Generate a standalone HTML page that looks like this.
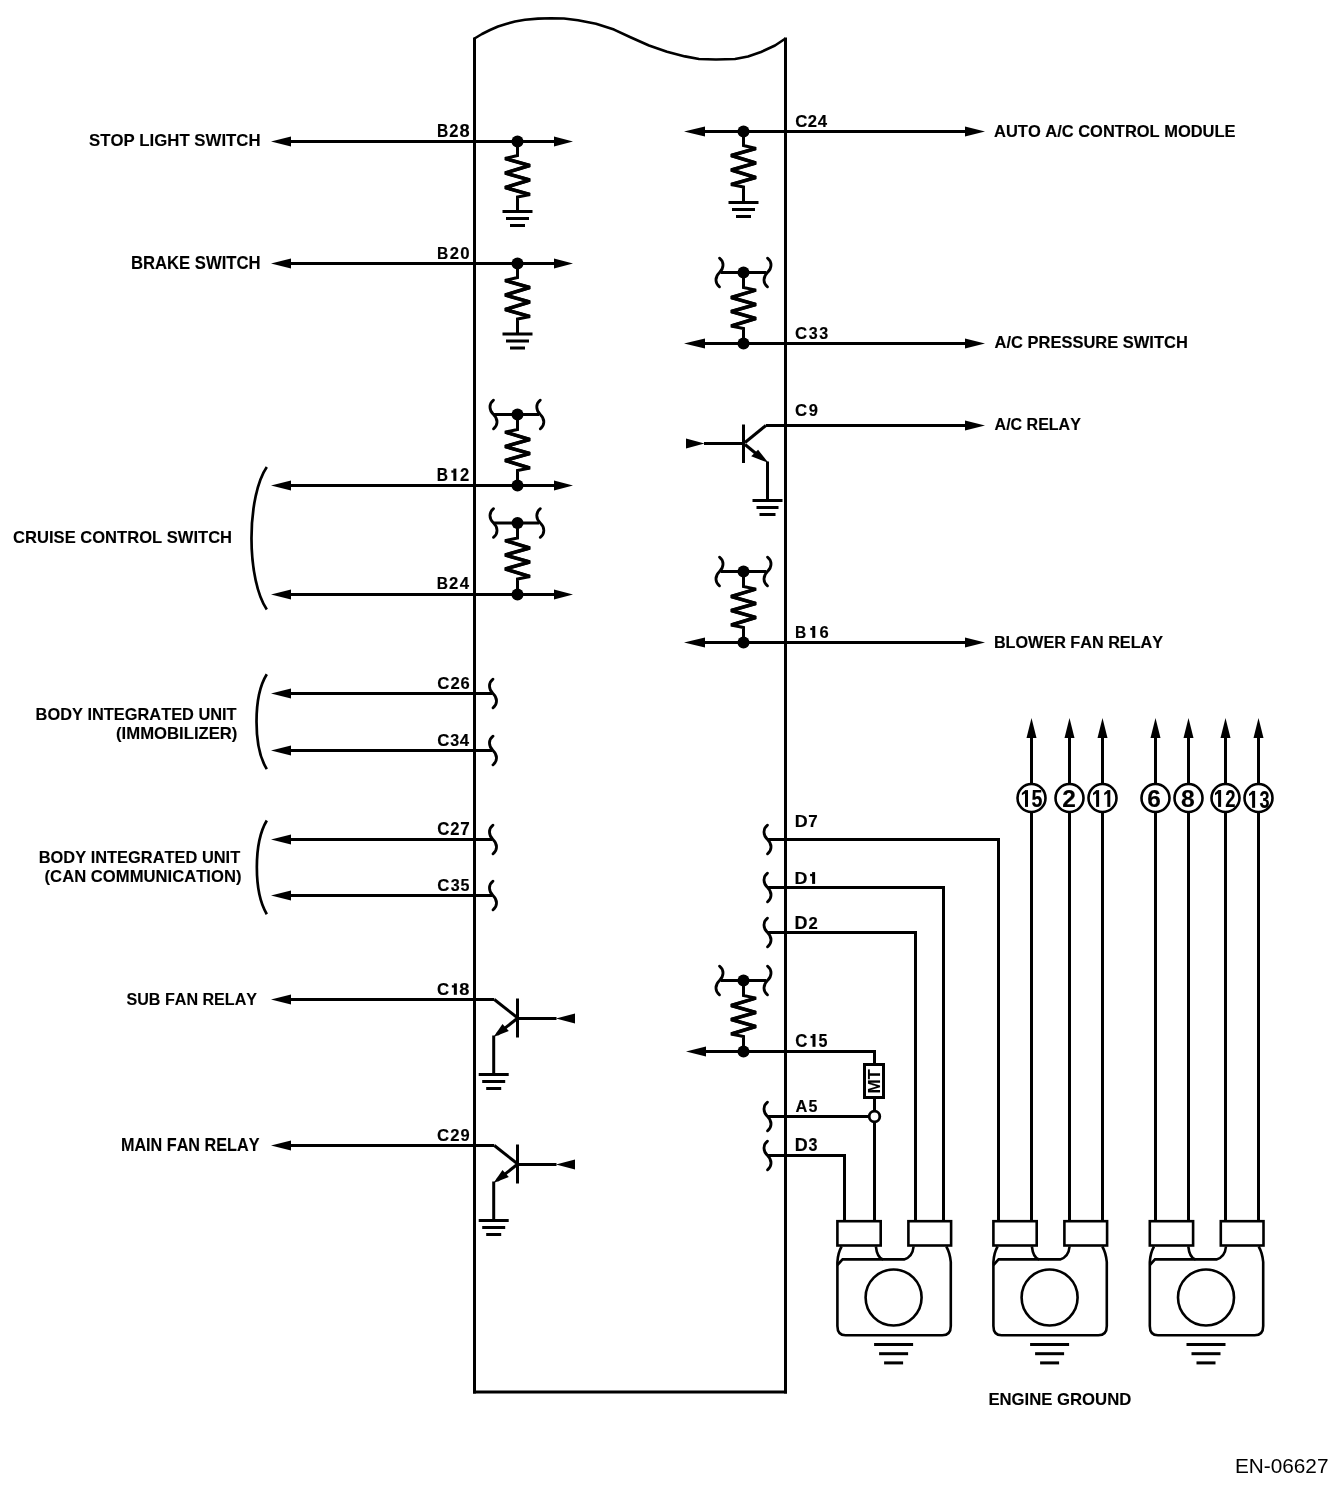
<!DOCTYPE html>
<html><head><meta charset="utf-8"><style>
html,body{margin:0;padding:0;background:#fff;}
svg{display:block;}
text{font-family:"Liberation Sans",sans-serif;font-kerning:none;fill:#000;stroke:#000;stroke-width:0.15px;}
svg{will-change:transform;}
text.thin{stroke:#000;stroke-width:0.1px;}
text.reg{stroke:none;}
</style></head><body>
<svg width="1344" height="1492" viewBox="0 0 1344 1492" stroke="#000" fill="none">
<rect x="0" y="0" width="1344" height="1492" fill="#fff" stroke="none"/>
<polyline points="474.5,38.5 482,34 490,30 498,26.5 506,24 515,21.5 525,19.8 538,18.6 551,18.3 564,18.5 578,20.3 596,23.7 614,29.6 631,37.5 649,45.5 667,51.7 685,56.4 699,59 716,59.5 735,59 748,56.5 761,52 775,45.5 785.5,38.5" stroke-width="2.6" stroke-linejoin="round" stroke-miterlimit="4"/>
<line x1="474.5" y1="37.5" x2="474.5" y2="1393.5" stroke-width="3"/>
<line x1="785.5" y1="37.5" x2="785.5" y2="1393.5" stroke-width="3"/>
<line x1="473" y1="1392" x2="787" y2="1392" stroke-width="3"/>
<polygon points="271,141.5 291,136.5 291,146.5" fill="#000" stroke="none"/>
<line x1="290" y1="141.5" x2="556" y2="141.5" stroke-width="3"/>
<polygon points="573,141.5 554,136.5 554,146.5" fill="#000" stroke="none"/>
<circle cx="517.5" cy="141.5" r="6" fill="#000" stroke="none"/>
<polyline points="517.5,141.5 517.5,155.5 504.9,158.5 530.1,165.5 504.9,173 530.1,180 504.9,187.5 530.1,194.5 517.5,197 517.5,211.5" stroke-width="3" stroke-linejoin="miter" stroke-miterlimit="2"/>
<polyline points="505.3,158.5 529.7,165.5 505.3,173 529.7,180 505.3,187.5 529.7,194.5" stroke-width="3.6" stroke-linejoin="miter" stroke-miterlimit="2"/>
<rect x="502.5" y="210" width="30" height="3" fill="#000" stroke="none"/>
<rect x="506" y="217" width="23" height="3" fill="#000" stroke="none"/>
<rect x="510" y="224" width="15" height="3" fill="#000" stroke="none"/>
<polygon points="271,263.5 291,258.5 291,268.5" fill="#000" stroke="none"/>
<line x1="290" y1="263.5" x2="556" y2="263.5" stroke-width="3"/>
<polygon points="573,263.5 554,258.5 554,268.5" fill="#000" stroke="none"/>
<circle cx="517.5" cy="263.5" r="6" fill="#000" stroke="none"/>
<polyline points="517.5,263.5 517.5,277.5 504.9,280.5 530.1,287.5 504.9,295 530.1,302 504.9,309.5 530.1,316.5 517.5,319 517.5,334" stroke-width="3" stroke-linejoin="miter" stroke-miterlimit="2"/>
<polyline points="505.3,280.5 529.7,287.5 505.3,295 529.7,302 505.3,309.5 529.7,316.5" stroke-width="3.6" stroke-linejoin="miter" stroke-miterlimit="2"/>
<rect x="502.5" y="332.5" width="30" height="3" fill="#000" stroke="none"/>
<rect x="506" y="339.5" width="23" height="3" fill="#000" stroke="none"/>
<rect x="510" y="346.5" width="15" height="3" fill="#000" stroke="none"/>
<polygon points="271,485.5 291,480.5 291,490.5" fill="#000" stroke="none"/>
<line x1="290" y1="485.5" x2="556" y2="485.5" stroke-width="3"/>
<polygon points="573,485.5 554,480.5 554,490.5" fill="#000" stroke="none"/>
<line x1="494" y1="414.5" x2="539" y2="414.5" stroke-width="3"/>
<circle cx="517.5" cy="414.5" r="6" fill="#000" stroke="none"/>
<path d="M493.5,400.2 C488.8,403.77 488.8,410.21 493.5,414.5 C498.2,418.79 498.2,425.23 493.5,428.8" stroke-width="2.8" stroke-linecap="round"/>
<path d="M540.3,400.2 C535.6,403.77 535.6,410.21 540.3,414.5 C545,418.79 545,425.23 540.3,428.8" stroke-width="2.8" stroke-linecap="round"/>
<polyline points="517.5,414.5 517.5,429.5 504.9,432.1 530.1,439.5 504.9,446.5 530.1,453.5 504.9,460.5 530.1,468 517.5,470.5 517.5,485.5" stroke-width="3" stroke-linejoin="miter" stroke-miterlimit="2"/>
<polyline points="505.3,432.1 529.7,439.5 505.3,446.5 529.7,453.5 505.3,460.5 529.7,468" stroke-width="3.6" stroke-linejoin="miter" stroke-miterlimit="2"/>
<circle cx="517.5" cy="485.5" r="6" fill="#000" stroke="none"/>
<polygon points="271,594.5 291,589.5 291,599.5" fill="#000" stroke="none"/>
<line x1="290" y1="594.5" x2="556" y2="594.5" stroke-width="3"/>
<polygon points="573,594.5 554,589.5 554,599.5" fill="#000" stroke="none"/>
<line x1="494" y1="523" x2="539" y2="523" stroke-width="3"/>
<circle cx="517.5" cy="523" r="6" fill="#000" stroke="none"/>
<path d="M493.5,508.7 C488.8,512.27 488.8,518.71 493.5,523 C498.2,527.29 498.2,533.73 493.5,537.3" stroke-width="2.8" stroke-linecap="round"/>
<path d="M540.3,508.7 C535.6,512.27 535.6,518.71 540.3,523 C545,527.29 545,533.73 540.3,537.3" stroke-width="2.8" stroke-linecap="round"/>
<polyline points="517.5,523 517.5,538 504.9,540.6 530.1,548 504.9,555 530.1,562 504.9,569 530.1,576.5 517.5,579 517.5,594.5" stroke-width="3" stroke-linejoin="miter" stroke-miterlimit="2"/>
<polyline points="505.3,540.6 529.7,548 505.3,555 529.7,562 505.3,569 529.7,576.5" stroke-width="3.6" stroke-linejoin="miter" stroke-miterlimit="2"/>
<circle cx="517.5" cy="594.5" r="6" fill="#000" stroke="none"/>
<polygon points="271,693.5 291,688.5 291,698.5" fill="#000" stroke="none"/>
<line x1="290" y1="693.5" x2="492.5" y2="693.5" stroke-width="3"/>
<path d="M493,679.2 C488.3,682.77 488.3,689.21 493,693.5 C497.7,697.79 497.7,704.23 493,707.8" stroke-width="2.8" stroke-linecap="round"/>
<polygon points="271,750.5 291,745.5 291,755.5" fill="#000" stroke="none"/>
<line x1="290" y1="750.5" x2="492.5" y2="750.5" stroke-width="3"/>
<path d="M493,736.2 C488.3,739.77 488.3,746.21 493,750.5 C497.7,754.79 497.7,761.23 493,764.8" stroke-width="2.8" stroke-linecap="round"/>
<polygon points="271,839.5 291,834.5 291,844.5" fill="#000" stroke="none"/>
<line x1="290" y1="839.5" x2="492.5" y2="839.5" stroke-width="3"/>
<path d="M493,825.2 C488.3,828.77 488.3,835.21 493,839.5 C497.7,843.79 497.7,850.23 493,853.8" stroke-width="2.8" stroke-linecap="round"/>
<polygon points="271,895.5 291,890.5 291,900.5" fill="#000" stroke="none"/>
<line x1="290" y1="895.5" x2="492.5" y2="895.5" stroke-width="3"/>
<path d="M493,881.2 C488.3,884.77 488.3,891.21 493,895.5 C497.7,899.79 497.7,906.23 493,909.8" stroke-width="2.8" stroke-linecap="round"/>
<polygon points="271,999.5 291,994.5 291,1004.5" fill="#000" stroke="none"/>
<line x1="290" y1="999.5" x2="494.3" y2="999.5" stroke-width="3"/>
<polyline points="494.3,999.5 516.5,1017" stroke-width="3" stroke-linejoin="miter" stroke-miterlimit="4"/>
<line x1="517.5" y1="998.5" x2="517.5" y2="1037.5" stroke-width="3"/>
<line x1="517.5" y1="1018.5" x2="556.5" y2="1018.5" stroke-width="3"/>
<polygon points="556,1018.5 575,1013.5 575,1023.5" fill="#000" stroke="none"/>
<line x1="516.5" y1="1019" x2="497" y2="1034.5" stroke-width="3"/>
<polygon points="493.5,1037 502.5,1024 508.8,1031" fill="#000" stroke="none"/>
<line x1="493.7" y1="1035.5" x2="493.7" y2="1074.5" stroke-width="3"/>
<rect x="478.7" y="1073" width="30" height="3" fill="#000" stroke="none"/>
<rect x="482.2" y="1080" width="23" height="3" fill="#000" stroke="none"/>
<rect x="486.2" y="1087" width="15" height="3" fill="#000" stroke="none"/>
<polygon points="271,1145.5 291,1140.5 291,1150.5" fill="#000" stroke="none"/>
<line x1="290" y1="1145.5" x2="494.3" y2="1145.5" stroke-width="3"/>
<polyline points="494.3,1145.5 516.5,1163" stroke-width="3" stroke-linejoin="miter" stroke-miterlimit="4"/>
<line x1="517.5" y1="1144.5" x2="517.5" y2="1183.5" stroke-width="3"/>
<line x1="517.5" y1="1164.5" x2="556.5" y2="1164.5" stroke-width="3"/>
<polygon points="556,1164.5 575,1159.5 575,1169.5" fill="#000" stroke="none"/>
<line x1="516.5" y1="1165" x2="497" y2="1180.5" stroke-width="3"/>
<polygon points="493.5,1183 502.5,1170 508.8,1177" fill="#000" stroke="none"/>
<line x1="493.7" y1="1181.5" x2="493.7" y2="1220.5" stroke-width="3"/>
<rect x="478.7" y="1219" width="30" height="3" fill="#000" stroke="none"/>
<rect x="482.2" y="1226" width="23" height="3" fill="#000" stroke="none"/>
<rect x="486.2" y="1233" width="15" height="3" fill="#000" stroke="none"/>
<polygon points="684,131.5 705,126.5 705,136.5" fill="#000" stroke="none"/>
<line x1="703" y1="131.5" x2="967" y2="131.5" stroke-width="3"/>
<polygon points="985,131.5 965,126.5 965,136.5" fill="#000" stroke="none"/>
<circle cx="743.5" cy="131.5" r="6" fill="#000" stroke="none"/>
<polyline points="743.5,131.5 743.5,145.5 756.1,148.5 730.9,155.5 756.1,163 730.9,170 756.1,177.5 730.9,184.5 743.5,187 743.5,202.5" stroke-width="3" stroke-linejoin="miter" stroke-miterlimit="2"/>
<polyline points="755.7,148.5 731.3,155.5 755.7,163 731.3,170 755.7,177.5 731.3,184.5" stroke-width="3.6" stroke-linejoin="miter" stroke-miterlimit="2"/>
<rect x="728.5" y="201" width="30" height="3" fill="#000" stroke="none"/>
<rect x="732" y="208" width="23" height="3" fill="#000" stroke="none"/>
<rect x="736" y="215" width="15" height="3" fill="#000" stroke="none"/>
<polygon points="684,343.5 705,338.5 705,348.5" fill="#000" stroke="none"/>
<line x1="703" y1="343.5" x2="967" y2="343.5" stroke-width="3"/>
<polygon points="985,343.5 965,338.5 965,348.5" fill="#000" stroke="none"/>
<line x1="720.5" y1="272.5" x2="766.5" y2="272.5" stroke-width="3"/>
<circle cx="743.5" cy="272.5" r="6" fill="#000" stroke="none"/>
<path d="M719.5,258.2 C724.2,261.77 724.2,268.21 719.5,272.5 C714.8,276.79 714.8,283.23 719.5,286.8" stroke-width="2.8" stroke-linecap="round"/>
<path d="M767.5,258.2 C772.2,261.77 772.2,268.21 767.5,272.5 C762.8,276.79 762.8,283.23 767.5,286.8" stroke-width="2.8" stroke-linecap="round"/>
<polyline points="743.5,272.5 743.5,287.5 756.1,290.1 730.9,297.5 756.1,304.5 730.9,311.5 756.1,318.5 730.9,326 743.5,328.5 743.5,343.5" stroke-width="3" stroke-linejoin="miter" stroke-miterlimit="2"/>
<polyline points="755.7,290.1 731.3,297.5 755.7,304.5 731.3,311.5 755.7,318.5 731.3,326" stroke-width="3.6" stroke-linejoin="miter" stroke-miterlimit="2"/>
<circle cx="743.5" cy="343.5" r="6" fill="#000" stroke="none"/>
<polygon points="684,642.5 705,637.5 705,647.5" fill="#000" stroke="none"/>
<line x1="703" y1="642.5" x2="967" y2="642.5" stroke-width="3"/>
<polygon points="985,642.5 965,637.5 965,647.5" fill="#000" stroke="none"/>
<line x1="720.5" y1="571.5" x2="766.5" y2="571.5" stroke-width="3"/>
<circle cx="743.5" cy="571.5" r="6" fill="#000" stroke="none"/>
<path d="M719.5,557.2 C724.2,560.77 724.2,567.21 719.5,571.5 C714.8,575.79 714.8,582.23 719.5,585.8" stroke-width="2.8" stroke-linecap="round"/>
<path d="M767.5,557.2 C772.2,560.77 772.2,567.21 767.5,571.5 C762.8,575.79 762.8,582.23 767.5,585.8" stroke-width="2.8" stroke-linecap="round"/>
<polyline points="743.5,571.5 743.5,586.5 756.1,589.1 730.9,596.5 756.1,603.5 730.9,610.5 756.1,617.5 730.9,625 743.5,627.5 743.5,642.5" stroke-width="3" stroke-linejoin="miter" stroke-miterlimit="2"/>
<polyline points="755.7,589.1 731.3,596.5 755.7,603.5 731.3,610.5 755.7,617.5 731.3,625" stroke-width="3.6" stroke-linejoin="miter" stroke-miterlimit="2"/>
<circle cx="743.5" cy="642.5" r="6" fill="#000" stroke="none"/>
<line x1="765.9" y1="425.5" x2="967" y2="425.5" stroke-width="3"/>
<polygon points="985,425.5 965,420.5 965,430.5" fill="#000" stroke="none"/>
<polyline points="765.9,425.5 745,442.5" stroke-width="3" stroke-linejoin="miter" stroke-miterlimit="4"/>
<line x1="743.5" y1="424.5" x2="743.5" y2="463" stroke-width="3"/>
<line x1="704" y1="443.5" x2="743.5" y2="443.5" stroke-width="3"/>
<polygon points="704.5,443.5 686,438.5 686,448.5" fill="#000" stroke="none"/>
<line x1="745" y1="444.5" x2="762" y2="458.5" stroke-width="3"/>
<polygon points="768.4,462.8 751.2,456.3 758.1,449.8" fill="#000" stroke="none"/>
<line x1="767.5" y1="461.5" x2="767.5" y2="500.5" stroke-width="3"/>
<rect x="752.5" y="499" width="30" height="3" fill="#000" stroke="none"/>
<rect x="756.5" y="506" width="22" height="3" fill="#000" stroke="none"/>
<rect x="759.5" y="513" width="16" height="3" fill="#000" stroke="none"/>
<polygon points="686,1051.5 706,1046.5 706,1056.5" fill="#000" stroke="none"/>
<line x1="720.5" y1="980.5" x2="766.5" y2="980.5" stroke-width="3"/>
<circle cx="743.5" cy="980.5" r="6" fill="#000" stroke="none"/>
<path d="M719.5,966.2 C724.2,969.77 724.2,976.21 719.5,980.5 C714.8,984.79 714.8,991.23 719.5,994.8" stroke-width="2.8" stroke-linecap="round"/>
<path d="M767.5,966.2 C772.2,969.77 772.2,976.21 767.5,980.5 C762.8,984.79 762.8,991.23 767.5,994.8" stroke-width="2.8" stroke-linecap="round"/>
<polyline points="743.5,980.5 743.5,995.5 756.1,998.1 730.9,1005.5 756.1,1012.5 730.9,1019.5 756.1,1026.5 730.9,1034 743.5,1036.5 743.5,1051.5" stroke-width="3" stroke-linejoin="miter" stroke-miterlimit="2"/>
<polyline points="755.7,998.1 731.3,1005.5 755.7,1012.5 731.3,1019.5 755.7,1026.5 731.3,1034" stroke-width="3.6" stroke-linejoin="miter" stroke-miterlimit="2"/>
<circle cx="743.5" cy="1051.5" r="6" fill="#000" stroke="none"/>
<polyline points="704,1051.5 874.5,1051.5 874.5,1064.5" stroke-width="3" stroke-linejoin="miter" stroke-miterlimit="4"/>
<rect x="864.5" y="1064.5" width="19" height="33" fill="none" stroke-width="3"/>
<line x1="874.5" y1="1097" x2="874.5" y2="1110.5" stroke-width="3"/>
<circle cx="874.5" cy="1116.5" r="5.3" fill="none" stroke-width="2.8"/>
<line x1="874.5" y1="1122" x2="874.5" y2="1221" stroke-width="3"/>
<path d="M767.5,825.2 C762.8,828.77 762.8,835.21 767.5,839.5 C772.2,843.79 772.2,850.23 767.5,853.8" stroke-width="2.8" stroke-linecap="round"/>
<polyline points="767.5,839.5 998.5,839.5 998.5,1221" stroke-width="3" stroke-linejoin="miter" stroke-miterlimit="4"/>
<path d="M767.5,873.2 C762.8,876.77 762.8,883.21 767.5,887.5 C772.2,891.79 772.2,898.23 767.5,901.8" stroke-width="2.8" stroke-linecap="round"/>
<polyline points="767.5,887.5 943.5,887.5 943.5,1221" stroke-width="3" stroke-linejoin="miter" stroke-miterlimit="4"/>
<path d="M767.5,918.2 C762.8,921.77 762.8,928.21 767.5,932.5 C772.2,936.79 772.2,943.23 767.5,946.8" stroke-width="2.8" stroke-linecap="round"/>
<polyline points="767.5,932.5 915.5,932.5 915.5,1221" stroke-width="3" stroke-linejoin="miter" stroke-miterlimit="4"/>
<path d="M767.5,1102.2 C762.8,1105.78 762.8,1112.21 767.5,1116.5 C772.2,1120.79 772.2,1127.22 767.5,1130.8" stroke-width="2.8" stroke-linecap="round"/>
<line x1="767.5" y1="1116.5" x2="869" y2="1116.5" stroke-width="3"/>
<path d="M767.5,1141.2 C762.8,1144.78 762.8,1151.21 767.5,1155.5 C772.2,1159.79 772.2,1166.22 767.5,1169.8" stroke-width="2.8" stroke-linecap="round"/>
<polyline points="767.5,1155.5 844.5,1155.5 844.5,1221" stroke-width="3" stroke-linejoin="miter" stroke-miterlimit="4"/>
<polygon points="1031.5,718 1026.5,738 1036.5,738" fill="#000" stroke="none"/>
<line x1="1031.5" y1="736" x2="1031.5" y2="783.5" stroke-width="3"/>
<line x1="1031.5" y1="812.5" x2="1031.5" y2="1221" stroke-width="3"/>
<circle cx="1031.5" cy="798" r="14" fill="none" stroke-width="2.6"/>
<polygon points="1069.5,718 1064.5,738 1074.5,738" fill="#000" stroke="none"/>
<line x1="1069.5" y1="736" x2="1069.5" y2="783.5" stroke-width="3"/>
<line x1="1069.5" y1="812.5" x2="1069.5" y2="1221" stroke-width="3"/>
<circle cx="1069.5" cy="798" r="14" fill="none" stroke-width="2.6"/>
<polygon points="1102.5,718 1097.5,738 1107.5,738" fill="#000" stroke="none"/>
<line x1="1102.5" y1="736" x2="1102.5" y2="783.5" stroke-width="3"/>
<line x1="1102.5" y1="812.5" x2="1102.5" y2="1221" stroke-width="3"/>
<circle cx="1102.5" cy="798" r="14" fill="none" stroke-width="2.6"/>
<polygon points="1155.5,718 1150.5,738 1160.5,738" fill="#000" stroke="none"/>
<line x1="1155.5" y1="736" x2="1155.5" y2="783.5" stroke-width="3"/>
<line x1="1155.5" y1="812.5" x2="1155.5" y2="1221" stroke-width="3"/>
<circle cx="1155.5" cy="798" r="14" fill="none" stroke-width="2.6"/>
<polygon points="1188.5,718 1183.5,738 1193.5,738" fill="#000" stroke="none"/>
<line x1="1188.5" y1="736" x2="1188.5" y2="783.5" stroke-width="3"/>
<line x1="1188.5" y1="812.5" x2="1188.5" y2="1221" stroke-width="3"/>
<circle cx="1188.5" cy="798" r="14" fill="none" stroke-width="2.6"/>
<polygon points="1225.5,718 1220.5,738 1230.5,738" fill="#000" stroke="none"/>
<line x1="1225.5" y1="736" x2="1225.5" y2="783.5" stroke-width="3"/>
<line x1="1225.5" y1="812.5" x2="1225.5" y2="1221" stroke-width="3"/>
<circle cx="1225.5" cy="798" r="14" fill="none" stroke-width="2.6"/>
<polygon points="1258.5,718 1253.5,738 1263.5,738" fill="#000" stroke="none"/>
<line x1="1258.5" y1="736" x2="1258.5" y2="783.5" stroke-width="3"/>
<line x1="1258.5" y1="812.5" x2="1258.5" y2="1221" stroke-width="3"/>
<circle cx="1258.5" cy="798" r="14" fill="none" stroke-width="2.6"/>
<rect x="837.4" y="1221.2" width="43.3" height="24.3" fill="none" stroke-width="2.6"/>
<rect x="908.4" y="1221.2" width="42.7" height="24.3" fill="none" stroke-width="2.6"/>
<path d="M841.6,1246.5 Q837.9,1253 837.4,1262 L837.4,1326 Q837.4,1335.3 845.6,1335.3 L942.3,1335.3 Q950.8,1335.3 950.8,1326 L950.8,1262 Q950,1253 946.3,1246.5" stroke-width="2.6" />
<path d="M837.4,1265 L842.6,1259.4 L904.1,1259.4 Q912.6,1257 913.6,1246.5" stroke-width="2.6" />
<path d="M875.9,1246.5 Q877.1,1258 883.1,1259.4" stroke-width="2.6" />
<circle cx="893.6" cy="1297.5" r="28" fill="none" stroke-width="2.6"/>
<rect x="874.1" y="1343" width="39" height="3" fill="#000" stroke="none"/>
<rect x="879.1" y="1352.2" width="29" height="3" fill="#000" stroke="none"/>
<rect x="884.1" y="1361.4" width="19" height="3" fill="#000" stroke="none"/>
<rect x="993.4" y="1221.2" width="43.3" height="24.3" fill="none" stroke-width="2.6"/>
<rect x="1064.4" y="1221.2" width="42.7" height="24.3" fill="none" stroke-width="2.6"/>
<path d="M997.6,1246.5 Q993.9,1253 993.4,1262 L993.4,1326 Q993.4,1335.3 1001.6,1335.3 L1098.3,1335.3 Q1106.8,1335.3 1106.8,1326 L1106.8,1262 Q1106,1253 1102.3,1246.5" stroke-width="2.6" />
<path d="M993.4,1265 L998.6,1259.4 L1060.1,1259.4 Q1068.6,1257 1069.6,1246.5" stroke-width="2.6" />
<path d="M1031.9,1246.5 Q1033.1,1258 1039.1,1259.4" stroke-width="2.6" />
<circle cx="1049.6" cy="1297.5" r="28" fill="none" stroke-width="2.6"/>
<rect x="1030.1" y="1343" width="39" height="3" fill="#000" stroke="none"/>
<rect x="1035.1" y="1352.2" width="29" height="3" fill="#000" stroke="none"/>
<rect x="1040.1" y="1361.4" width="19" height="3" fill="#000" stroke="none"/>
<rect x="1149.8" y="1221.2" width="43.3" height="24.3" fill="none" stroke-width="2.6"/>
<rect x="1220.8" y="1221.2" width="42.7" height="24.3" fill="none" stroke-width="2.6"/>
<path d="M1154,1246.5 Q1150.3,1253 1149.8,1262 L1149.8,1326 Q1149.8,1335.3 1158,1335.3 L1254.7,1335.3 Q1263.2,1335.3 1263.2,1326 L1263.2,1262 Q1262.4,1253 1258.7,1246.5" stroke-width="2.6" />
<path d="M1149.8,1265 L1155,1259.4 L1216.5,1259.4 Q1225,1257 1226,1246.5" stroke-width="2.6" />
<path d="M1188.3,1246.5 Q1189.5,1258 1195.5,1259.4" stroke-width="2.6" />
<circle cx="1206" cy="1297.5" r="28" fill="none" stroke-width="2.6"/>
<rect x="1186.5" y="1343" width="39" height="3" fill="#000" stroke="none"/>
<rect x="1191.5" y="1352.2" width="29" height="3" fill="#000" stroke="none"/>
<rect x="1196.5" y="1361.4" width="19" height="3" fill="#000" stroke="none"/>
<path d="M266.8,467 A28.1 80 0 0 0 266.8,609.5" stroke-width="2.7" />
<path d="M266.8,674.3 A22 56 0 0 0 266.8,769.1" stroke-width="2.7" />
<path d="M266.8,820.5 A22 56 0 0 0 266.8,914.2" stroke-width="2.7" />
<text transform="translate(89.02,145.74) scale(1.0074,1)" font-size="16.666" font-weight="bold" class="thin">STOP LIGHT SWITCH</text>
<text transform="translate(130.88,268.83) scale(0.9525,1)" font-size="17.514" font-weight="bold" class="thin">BRAKE SWITCH</text>
<text transform="translate(13.12,543.14) scale(0.9938,1)" font-size="16.666" font-weight="bold" class="thin">CRUISE CONTROL SWITCH</text>
<text transform="translate(35.6,719.84) scale(1.0093,1)" font-size="16.243" font-weight="bold" class="thin">BODY INTEGRATED UNIT</text>
<text transform="translate(116.07,738.65) scale(1.0657,1)" font-size="15.663" font-weight="bold" class="thin">(IMMOBILIZER)</text>
<text transform="translate(38.7,862.94) scale(1.0202,1)" font-size="16.102" font-weight="bold" class="thin">BODY INTEGRATED UNIT</text>
<text transform="translate(44.57,881.75) scale(1.0634,1)" font-size="15.663" font-weight="bold" class="thin">(CAN COMMUNICATION)</text>
<text transform="translate(126.44,1004.73) scale(0.9353,1)" font-size="17.231" font-weight="bold" class="thin">SUB FAN RELAY</text>
<text transform="translate(120.92,1151) scale(0.8773,1)" font-size="18.460" font-weight="bold" class="thin">MAIN FAN RELAY</text>
<text transform="translate(436.96,136.8) scale(0.8506,1)" font-size="18.314" font-weight="bold" >B</text>
<text transform="translate(449.17,136.8) scale(0.9208,1)" font-size="18.045" font-weight="bold" >2</text>
<text transform="translate(459.42,136.63) scale(1.0244,1)" font-size="17.796" font-weight="bold" >8</text>
<text transform="translate(436.96,258.8) scale(0.9569,1)" font-size="16.279" font-weight="bold" >B</text>
<text transform="translate(449.67,258.8) scale(1.0359,1)" font-size="16.040" font-weight="bold" >2</text>
<text transform="translate(460.33,258.65) scale(1.0634,1)" font-size="15.819" font-weight="bold" >0</text>
<text transform="translate(436.66,480.9) scale(0.8713,1)" font-size="17.878" font-weight="bold" >B</text>
<rect x="453.35" y="468.6" width="3" height="12.3" fill="#000" stroke="none"/>
<rect x="451.35" y="470.4" width="2.4" height="2.3" fill="#000" stroke="none"/>
<text transform="translate(459.92,480.9) scale(0.9433,1)" font-size="17.616" font-weight="bold" >2</text>
<text transform="translate(436.66,588.8) scale(0.9239,1)" font-size="16.861" font-weight="bold" >B</text>
<text transform="translate(449.02,588.8) scale(1.0002,1)" font-size="16.613" font-weight="bold" >2</text>
<text transform="translate(459.75,588.8) scale(0.9965,1)" font-size="16.861" font-weight="bold" >4</text>
<text transform="translate(437.21,688.64) scale(1.0358,1)" font-size="16.243" font-weight="bold" >C</text>
<text transform="translate(450.42,688.8) scale(1.0089,1)" font-size="16.470" font-weight="bold" >2</text>
<text transform="translate(460.49,688.64) scale(1.0189,1)" font-size="16.243" font-weight="bold" >6</text>
<text transform="translate(437.21,745.54) scale(1.0358,1)" font-size="16.243" font-weight="bold" >C</text>
<text transform="translate(450.13,745.52) scale(0.9929,1)" font-size="16.209" font-weight="bold" >3</text>
<text transform="translate(459.85,745.7) scale(1.0052,1)" font-size="16.715" font-weight="bold" >4</text>
<text transform="translate(437.21,834.73) scale(0.9454,1)" font-size="17.796" font-weight="bold" >C</text>
<text transform="translate(450.37,834.9) scale(0.9208,1)" font-size="18.045" font-weight="bold" >2</text>
<text transform="translate(460.27,834.9) scale(0.9309,1)" font-size="18.314" font-weight="bold" >7</text>
<text transform="translate(437.21,890.54) scale(1.0358,1)" font-size="16.243" font-weight="bold" >C</text>
<text transform="translate(450.63,890.52) scale(0.9929,1)" font-size="16.209" font-weight="bold" >3</text>
<text transform="translate(460.61,890.54) scale(0.9756,1)" font-size="16.481" font-weight="bold" >5</text>
<text transform="translate(437.11,994.64) scale(1.0449,1)" font-size="16.102" font-weight="bold" >C</text>
<rect x="453.85" y="983.4" width="3" height="11.4" fill="#000" stroke="none"/>
<rect x="451.85" y="985.2" width="2.4" height="2.3" fill="#000" stroke="none"/>
<text transform="translate(459.32,994.64) scale(1.1323,1)" font-size="16.102" font-weight="bold" >8</text>
<text transform="translate(437.11,1140.84) scale(1.0358,1)" font-size="16.243" font-weight="bold" >C</text>
<text transform="translate(450.32,1141) scale(1.0089,1)" font-size="16.470" font-weight="bold" >2</text>
<text transform="translate(460.43,1140.84) scale(1.0168,1)" font-size="16.243" font-weight="bold" >9</text>
<text transform="translate(795.31,126.64) scale(1.0010,1)" font-size="16.808" font-weight="bold" >C</text>
<text transform="translate(807.87,126.8) scale(0.9750,1)" font-size="17.043" font-weight="bold" >2</text>
<text transform="translate(817.65,126.8) scale(0.9714,1)" font-size="17.297" font-weight="bold" >4</text>
<text transform="translate(794.91,338.59) scale(1.0313,1)" font-size="16.313" font-weight="bold" >C</text>
<text transform="translate(808.68,338.57) scale(0.9886,1)" font-size="16.280" font-weight="bold" >3</text>
<text transform="translate(819.13,338.57) scale(0.9886,1)" font-size="16.280" font-weight="bold" >3</text>
<text transform="translate(795.11,416.04) scale(1.0181,1)" font-size="16.525" font-weight="bold" >C</text>
<text transform="translate(808.73,416.04) scale(0.9994,1)" font-size="16.525" font-weight="bold" >9</text>
<text transform="translate(794.96,637.9) scale(0.9006,1)" font-size="17.297" font-weight="bold" >B</text>
<rect x="812.25" y="626" width="3" height="11.9" fill="#000" stroke="none"/>
<rect x="810.25" y="627.8" width="2.4" height="2.3" fill="#000" stroke="none"/>
<text transform="translate(819.39,637.74) scale(0.9846,1)" font-size="16.808" font-weight="bold" >6</text>
<text transform="translate(794.7,826.9) scale(1.0458,1)" font-size="17.151" font-weight="bold" >D</text>
<text transform="translate(808.27,826.9) scale(0.9940,1)" font-size="17.151" font-weight="bold" >7</text>
<text transform="translate(794.6,883.9) scale(1.0458,1)" font-size="17.151" font-weight="bold" >D</text>
<rect x="812.1" y="872.1" width="3" height="11.8" fill="#000" stroke="none"/>
<rect x="810.1" y="873.9" width="2.4" height="2.3" fill="#000" stroke="none"/>
<text transform="translate(794.6,928.9) scale(1.0283,1)" font-size="17.442" font-weight="bold" >D</text>
<text transform="translate(808.42,928.9) scale(0.9669,1)" font-size="17.186" font-weight="bold" >2</text>
<text transform="translate(795.31,1046.62) scale(0.9306,1)" font-size="18.079" font-weight="bold" >C</text>
<rect x="812.5" y="1034" width="3" height="12.8" fill="#000" stroke="none"/>
<rect x="810.5" y="1035.8" width="2.4" height="2.3" fill="#000" stroke="none"/>
<text transform="translate(818.51,1046.62) scale(0.8765,1)" font-size="18.345" font-weight="bold" >5</text>
<text transform="translate(795.59,1111.9) scale(0.9479,1)" font-size="17.297" font-weight="bold" >A</text>
<text transform="translate(808.41,1111.73) scale(0.9428,1)" font-size="17.055" font-weight="bold" >5</text>
<text transform="translate(794.8,1150.9) scale(0.9566,1)" font-size="18.750" font-weight="bold" >D</text>
<text transform="translate(808.53,1150.7) scale(0.8852,1)" font-size="18.183" font-weight="bold" >3</text>
<text transform="translate(994.09,136.67) scale(0.9975,1)" font-size="16.518" font-weight="bold" >AUTO A/C CONTROL MODULE</text>
<text transform="translate(994.59,348.08) scale(1.0412,1)" font-size="15.847" font-weight="bold" >A/C PRESSURE SWITCH</text>
<text transform="translate(994.6,429.96) scale(0.9535,1)" font-size="16.787" font-weight="bold" >A/C RELAY</text>
<text transform="translate(993.92,647.64) scale(0.9928,1)" font-size="16.313" font-weight="bold" >BLOWER FAN RELAY</text>
<text transform="translate(988.38,1404.84) scale(1.0210,1)" font-size="16.384" font-weight="bold" class="thin">ENGINE GROUND</text>
<text transform="translate(1234.89,1473) scale(1.0155,1)" font-size="20.480" font-weight="normal" class="reg">EN-06627</text>
<rect x="1025" y="790.1" width="3" height="16.8" fill="#000" stroke="none"/>
<polygon points="1021.9,793.1 1025.5,789.9 1025.5,793.3 1021.9,795.3" fill="#000" stroke="none"/>
<text transform="translate(1031.49,806.66) scale(0.8180,1)" font-size="24.077" font-weight="bold" >5</text>
<text transform="translate(1062.35,806.9) scale(1.0187,1)" font-size="24.060" font-weight="bold" >2</text>
<rect x="1096.1" y="790.1" width="3" height="16.8" fill="#000" stroke="none"/>
<polygon points="1093,793.1 1096.6,789.9 1096.6,793.3 1093,795.3" fill="#000" stroke="none"/>
<rect x="1107.3" y="790.1" width="3" height="16.8" fill="#000" stroke="none"/>
<polygon points="1104.2,793.1 1107.8,789.9 1107.8,793.3 1104.2,795.3" fill="#000" stroke="none"/>
<text transform="translate(1147.31,806.87) scale(1.0166,1)" font-size="24.011" font-weight="bold" >6</text>
<text transform="translate(1181.12,806.87) scale(1.0293,1)" font-size="24.011" font-weight="bold" >8</text>
<rect x="1218.1" y="790" width="3" height="16.9" fill="#000" stroke="none"/>
<polygon points="1215,793 1218.6,789.8 1218.6,793.2 1215,795.2" fill="#000" stroke="none"/>
<text transform="translate(1225.36,806.9) scale(0.7638,1)" font-size="24.204" font-weight="bold" >2</text>
<rect x="1252.1" y="790.9" width="3" height="16.9" fill="#000" stroke="none"/>
<polygon points="1249,793.9 1252.6,790.7 1252.6,794.1 1249,796.1" fill="#000" stroke="none"/>
<text transform="translate(1259.58,807.53) scale(0.7601,1)" font-size="23.821" font-weight="bold" >3</text>
<g transform="translate(880.3,1093.3) rotate(-90)"><text x="0" y="0" font-size="16.5" font-weight="bold" class="thin" transform="scale(1.0,1)">MT</text></g>
</svg></body></html>
